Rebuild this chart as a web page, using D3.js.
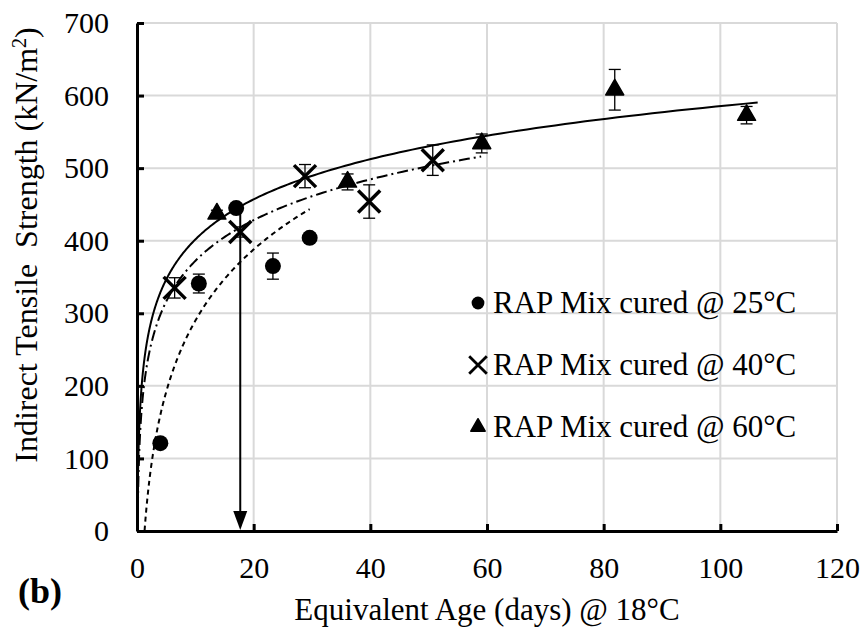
<!DOCTYPE html>
<html>
<head>
<meta charset="utf-8">
<script src="https://cdn.jsdelivr.net/npm/d3@7"></script>
<style>
  body { margin: 0; background: #fff; }
  text { font-family: "Liberation Serif", "Times New Roman", serif; fill: #000; }
</style>
</head>
<body>
<svg id="chart" width="864" height="630"></svg>
<script>
"use strict";
// values
var seriesNames = ["RAP Mix cured @ 25°C", "RAP Mix cured @ 40°C", "RAP Mix cured @ 60°C"];
var age25 = [4, 10.6, 17, 23.3, 29.6];
var its25 = [121, 341, 445, 365, 404];
var err25 = [4, 13, 4, 18, 4];
var age40 = [6.45, 17.7, 28.8, 39.8, 50.7];
var its40 = [335, 412, 489, 454, 511];
var err40 = [14, 7, 16, 23, 21];
var age60 = [13.7, 36.1, 59.1, 81.9, 104.5];
var its60 = [437, 481, 534, 608, 573];
var err60 = [5, 11, 13, 28, 12];
// x range covered by each log trendline
var trendFrom = [1.3, 0.15, 0.1];
var trendTo = [29.6, 59, 106.4];
var xTicks = [0, 20, 40, 60, 80, 100, 120];
var yTicks = [0, 100, 200, 300, 400, 500, 600, 700];
var arrowAge = 17.7;
var arrowTop = 447;

var svg = d3.select("#chart");
var plotLeft = 137, plotRight = 837, plotTop = 23, plotBottom = 531;
var x = d3.scaleLinear().domain([0, 120]).range([plotLeft, plotRight]);
var y = d3.scaleLinear().domain([0, 700]).range([plotBottom, plotTop]);

// grid
svg.append("g")
  .selectAll("line").data(xTicks.slice(1)).join("line")
  .attr("x1", d => x(d)).attr("x2", d => x(d))
  .attr("y1", y(0)).attr("y2", y(700))
  .attr("stroke", "#d9d9d9").attr("stroke-width", 2);
svg.append("g")
  .selectAll("line").data(yTicks.slice(1)).join("line")
  .attr("x1", x(0)).attr("x2", x(120))
  .attr("y1", d => y(d)).attr("y2", d => y(d))
  .attr("stroke", "#d9d9d9").attr("stroke-width", 2);

// axes
var xAxis = svg.append("g").attr("transform", "translate(0," + plotBottom + ")")
  .call(d3.axisBottom(x).tickValues(xTicks).tickSizeInner(-7).tickSizeOuter(0).tickPadding(26));
var yAxis = svg.append("g").attr("transform", "translate(" + plotLeft + ",0)")
  .call(d3.axisLeft(y).tickValues(yTicks).tickSizeInner(-7).tickSizeOuter(0).tickPadding(28));
[xAxis, yAxis].forEach(function (g) {
  g.select(".domain").attr("stroke", "#000").attr("stroke-width", 3);
  g.selectAll(".tick line").attr("stroke", "#000").attr("stroke-width", 3);
  g.selectAll(".tick text").style("font-family", "Liberation Serif").style("font-size", "30px");
});

// least squares log fit, like the spreadsheet trendline
function logFit(xs, ys) {
  var lx = xs.map(Math.log);
  var mx = d3.mean(lx), my = d3.mean(ys);
  var sxy = d3.sum(lx, (v, i) => (v - mx) * (ys[i] - my));
  var sxx = d3.sum(lx, v => (v - mx) * (v - mx));
  var a = sxy / sxx;
  return { a: a, b: my - a * mx };
}

var series = [
  { ages: age25, its: its25, err: err25, dash: "5,4" },
  { ages: age40, its: its40, err: err40, dash: "11,4,2,4" },
  { ages: age60, its: its60, err: err60, dash: null }
];

var line = d3.line().x(d => x(d[0])).y(d => y(d[1]));
series.forEach(function (s, i) {
  var f = logFit(s.ages, s.its);
  var pts = d3.range(0, 301).map(function (k) {
    var t = Math.exp(Math.log(trendFrom[i]) + (Math.log(trendTo[i]) - Math.log(trendFrom[i])) * k / 300);
    return [t, Math.max(0, f.a * Math.log(t) + f.b)];
  });
  svg.append("path").datum(pts).attr("d", line)
    .attr("fill", "none").attr("stroke", "#000").attr("stroke-width", 2)
    .attr("stroke-dasharray", s.dash);
});

// arrow
svg.append("line")
  .attr("x1", x(arrowAge)).attr("x2", x(arrowAge))
  .attr("y1", y(arrowTop)).attr("y2", y(0) - 18)
  .attr("stroke", "#000").attr("stroke-width", 2);
svg.append("path")
  .attr("d", "M" + (x(arrowAge) - 7) + "," + (y(0) - 20) + "L" + (x(arrowAge) + 7) + "," + (y(0) - 20) + "L" + x(arrowAge) + "," + (y(0) - 1) + "Z")
  .attr("fill", "#000");

// error bars
series.forEach(function (s) {
  var g = svg.append("g").attr("stroke", "#000").attr("stroke-width", 1.3);
  s.ages.forEach(function (a, k) {
    var hi = y(s.its[k] + s.err[k]), lo = y(s.its[k] - s.err[k]);
    g.append("line").attr("x1", x(a)).attr("x2", x(a)).attr("y1", hi).attr("y2", lo);
    g.append("line").attr("x1", x(a) - 6).attr("x2", x(a) + 6).attr("y1", hi).attr("y2", hi);
    g.append("line").attr("x1", x(a) - 6).attr("x2", x(a) + 6).attr("y1", lo).attr("y2", lo);
  });
});

function drawMarker(g, kind, cx, cy, scale) {
  if (kind === 0) {
    g.append("circle").attr("cx", cx).attr("cy", cy).attr("r", 8 * scale).attr("fill", "#000");
  } else if (kind === 1) {
    var h = 11 * scale;
    g.append("path")
      .attr("d", "M" + (cx - h) + "," + (cy - h) + "L" + (cx + h) + "," + (cy + h) + "M" + (cx - h) + "," + (cy + h) + "L" + (cx + h) + "," + (cy - h))
      .attr("stroke", "#000").attr("stroke-width", 3.5 * scale).attr("fill", "none");
  } else {
    g.append("path").attr("d", d3.symbol(d3.symbolTriangle, 140 * scale * scale)())
      .attr("transform", "translate(" + cx + "," + cy + ")")
      .attr("fill", "#000").attr("stroke", "#000").attr("stroke-width", 1.5).attr("stroke-linejoin", "round");
  }
}

series.forEach(function (s, i) {
  var g = svg.append("g");
  s.ages.forEach(function (a, k) { drawMarker(g, i, x(a), y(s.its[k]), 1); });
});

// legend
var legendY = [303, 365, 427];
seriesNames.forEach(function (name, i) {
  var g = svg.append("g");
  drawMarker(g, i, 478, legendY[i], 0.8);
  g.append("text").attr("x", 493).attr("y", legendY[i] + 10)
    .style("font-size", "31px").text(name);
});

// axis titles
svg.append("text").attr("x", (plotLeft + plotRight) / 2).attr("y", 620)
  .attr("text-anchor", "middle").style("font-size", "31px")
  .text("Equivalent Age (days) @ 18°C");
var yt = svg.append("text").attr("transform", "translate(37,245) rotate(-90)")
  .attr("text-anchor", "middle").style("font-size", "32px").style("white-space", "pre");
yt.append("tspan").text("Indirect Tensile  Strength (kN/m");
yt.append("tspan").attr("baseline-shift", "super").style("font-size", "20px").text("2");
yt.append("tspan").text(")");

svg.append("text").attr("x", 18).attr("y", 603)
  .style("font-size", "36px").style("font-weight", "bold").text("(b)");
</script>
</body>
</html>
